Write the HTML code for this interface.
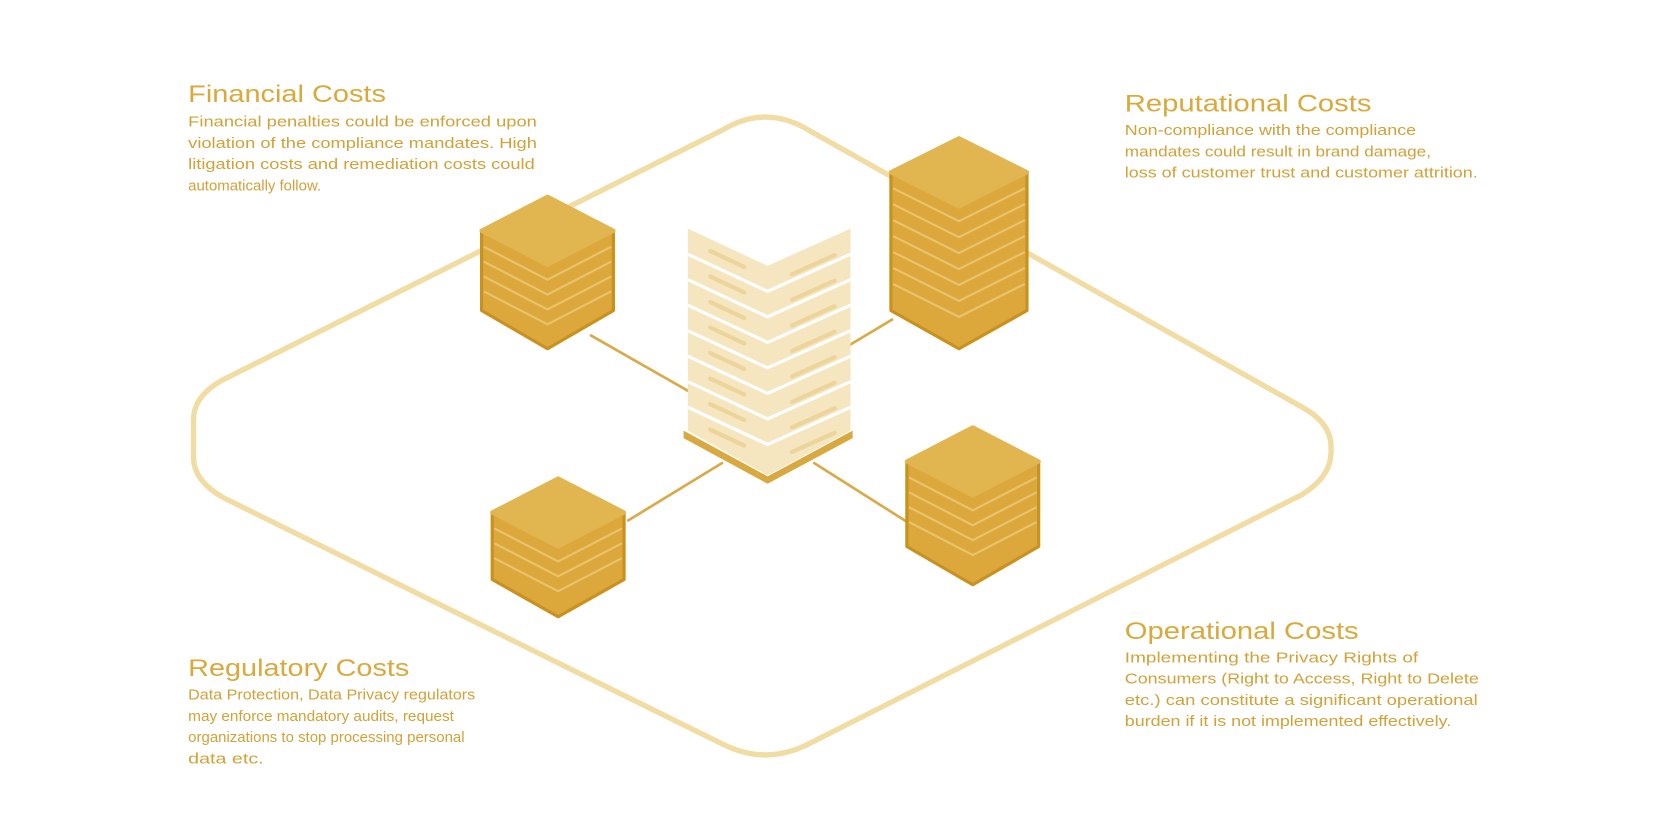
<!DOCTYPE html>
<html><head><meta charset="utf-8"><style>
html,body{margin:0;padding:0;background:#fff;}
svg{display:block}
text{font-family:"Liberation Sans",sans-serif;}
.t{fill:#d9a93c;font-size:23px;}
.b{fill:#d2a138;font-size:13.5px;}
</style></head><body>
<svg width="1667" height="823" viewBox="0 0 1568 774" xmlns="http://www.w3.org/2000/svg">
<!-- ring -->
<path d="M680,122 Q720,98 760,122 L1225,383 Q1252,398 1252,420 L1252,425 Q1252,448 1225,465 L760,700 Q720,720 680,700 L210,468 Q182,452 182,430 L182,395 Q182,372 210,357 Z" fill="none" stroke="#f1dca3" stroke-width="5"/>
<!-- connectors -->
<g stroke="#d9aa48" stroke-width="2.5">
<line x1="555" y1="315" x2="690" y2="392"/>
<line x1="840" y1="300" x2="790" y2="330"/>
<line x1="590" y1="490" x2="680" y2="435"/>
<line x1="855" y1="492" x2="765" y2="435"/>
</g>
<!-- server -->
<g>
<path d="M643,405 L722,448 L802,405 L802,412 L722,455 L643,412 Z" fill="#d9a83f"/>
<path d="M647,215 L722,250 L800,215 L800,405 L722,447 L647,405 Z" fill="#f5e6c0"/>
<g stroke="#fff" stroke-width="3" fill="none">
<path d="M647,239 L722,274 L800,239"/>
<path d="M647,263 L722,298 L800,263"/>
<path d="M647,287 L722,322 L800,287"/>
<path d="M647,311 L722,346 L800,311"/>
<path d="M647,335 L722,370 L800,335"/>
<path d="M647,359 L722,394 L800,359"/>
<path d="M647,383 L722,418 L800,383"/>
</g>
<g stroke="#edd49a" stroke-width="4" stroke-linecap="round">
<line x1="668" y1="236" x2="700" y2="251"/><line x1="745" y1="258" x2="785" y2="240"/>
<line x1="668" y1="260" x2="700" y2="275"/><line x1="745" y1="282" x2="785" y2="264"/>
<line x1="668" y1="284" x2="700" y2="299"/><line x1="745" y1="306" x2="785" y2="288"/>
<line x1="668" y1="308" x2="700" y2="323"/><line x1="745" y1="330" x2="785" y2="312"/>
<line x1="668" y1="332" x2="700" y2="347"/><line x1="745" y1="354" x2="785" y2="336"/>
<line x1="668" y1="356" x2="700" y2="371"/><line x1="745" y1="378" x2="785" y2="360"/>
<line x1="668" y1="380" x2="700" y2="395"/><line x1="745" y1="402" x2="785" y2="384"/>
<line x1="668" y1="404" x2="700" y2="419"/><line x1="745" y1="425" x2="785" y2="407"/>
</g>
</g>
<!-- cubes -->
<g>
<path d="M515,185 L577,217 L577,292 L515,328 L453,292 L453,217 Z" fill="#dca83c" stroke="#c9921f" stroke-width="3" stroke-linejoin="round"/>
<path d="M515,185 L577,217 L515,249 L453,217 Z" fill="#e1b550" stroke="#e1b550" stroke-width="4" stroke-linejoin="round"/>
<g stroke="#e9c46f" stroke-width="2" fill="none">
<path d="M455,232 L515,263 L575,232"/><path d="M455,246 L515,277 L575,246"/><path d="M455,260 L515,291 L575,260"/><path d="M455,274 L515,305 L575,274"/>
</g>
</g>
<g>
<path d="M902,130 L966,162 L966,292 L902,328 L838,292 L838,162 Z" fill="#dca83c" stroke="#c9921f" stroke-width="3" stroke-linejoin="round"/>
<path d="M902,130 L966,162 L902,194 L838,162 Z" fill="#e1b550" stroke="#e1b550" stroke-width="4" stroke-linejoin="round"/>
<g stroke="#e9c46f" stroke-width="2" fill="none">
<path d="M840,177 L902,208 L964,177"/><path d="M840,192 L902,223 L964,192"/><path d="M840,207 L902,238 L964,207"/><path d="M840,222 L902,253 L964,222"/><path d="M840,237 L902,268 L964,237"/><path d="M840,252 L902,283 L964,252"/><path d="M840,267 L902,298 L964,267"/>
</g>
</g>
<g>
<path d="M525,450 L587,482 L587,545 L525,580 L463,545 L463,482 Z" fill="#dca83c" stroke="#c9921f" stroke-width="3" stroke-linejoin="round"/>
<path d="M525,450 L587,482 L525,514 L463,482 Z" fill="#e1b550" stroke="#e1b550" stroke-width="4" stroke-linejoin="round"/>
<g stroke="#e9c46f" stroke-width="2" fill="none">
<path d="M465,497 L525,528 L585,497"/><path d="M465,511 L525,542 L585,511"/><path d="M465,525 L525,556 L585,525"/>
</g>
</g>
<g>
<path d="M915,402 L977,434 L977,514 L915,550 L853,514 L853,434 Z" fill="#dca83c" stroke="#c9921f" stroke-width="3" stroke-linejoin="round"/>
<path d="M915,402 L977,434 L915,466 L853,434 Z" fill="#e1b550" stroke="#e1b550" stroke-width="4" stroke-linejoin="round"/>
<g stroke="#e9c46f" stroke-width="2" fill="none">
<path d="M855,449 L915,480 L975,449"/><path d="M855,463 L915,494 L975,463"/><path d="M855,477 L915,508 L975,477"/><path d="M855,491 L915,522 L975,491"/>
</g>
</g>
<!-- text -->
<g lengthAdjust="spacingAndGlyphs">
<text class="t" x="177" y="96" textLength="186" lengthAdjust="spacingAndGlyphs">Financial Costs</text>
<text class="b" x="177" y="119" textLength="328" lengthAdjust="spacingAndGlyphs">Financial penalties could be enforced upon</text>
<text class="b" x="177" y="139" textLength="328" lengthAdjust="spacingAndGlyphs">violation of the compliance mandates.  High</text>
<text class="b" x="177" y="159" textLength="326" lengthAdjust="spacingAndGlyphs">litigation costs and remediation costs could</text>
<text class="b" x="177" y="179" textLength="125" lengthAdjust="spacingAndGlyphs">automatically follow.</text>
<text class="t" x="1058" y="105" textLength="232" lengthAdjust="spacingAndGlyphs">Reputational Costs</text>
<text class="b" x="1058" y="127" textLength="274" lengthAdjust="spacingAndGlyphs">Non-compliance with the compliance</text>
<text class="b" x="1058" y="147" textLength="288" lengthAdjust="spacingAndGlyphs">mandates could result in brand damage,</text>
<text class="b" x="1058" y="167" textLength="332" lengthAdjust="spacingAndGlyphs">loss of customer trust and customer attrition.</text>
<text class="t" x="177" y="636" textLength="208" lengthAdjust="spacingAndGlyphs">Regulatory Costs</text>
<text class="b" x="177" y="658" textLength="270" lengthAdjust="spacingAndGlyphs">Data Protection, Data Privacy regulators</text>
<text class="b" x="177" y="678" textLength="250" lengthAdjust="spacingAndGlyphs">may enforce mandatory audits, request</text>
<text class="b" x="177" y="698" textLength="260" lengthAdjust="spacingAndGlyphs">organizations to stop processing personal</text>
<text class="b" x="177" y="718" textLength="71" lengthAdjust="spacingAndGlyphs">data etc.</text>
<text class="t" x="1058" y="601" textLength="220" lengthAdjust="spacingAndGlyphs">Operational Costs</text>
<text class="b" x="1058" y="623" textLength="276" lengthAdjust="spacingAndGlyphs">Implementing the Privacy Rights of</text>
<text class="b" x="1058" y="643" textLength="333" lengthAdjust="spacingAndGlyphs">Consumers (Right to Access, Right to Delete</text>
<text class="b" x="1058" y="663" textLength="332" lengthAdjust="spacingAndGlyphs">etc.) can constitute a significant operational</text>
<text class="b" x="1058" y="683" textLength="307" lengthAdjust="spacingAndGlyphs">burden if it is not implemented effectively.</text>
</g>
</svg>
</body></html>
